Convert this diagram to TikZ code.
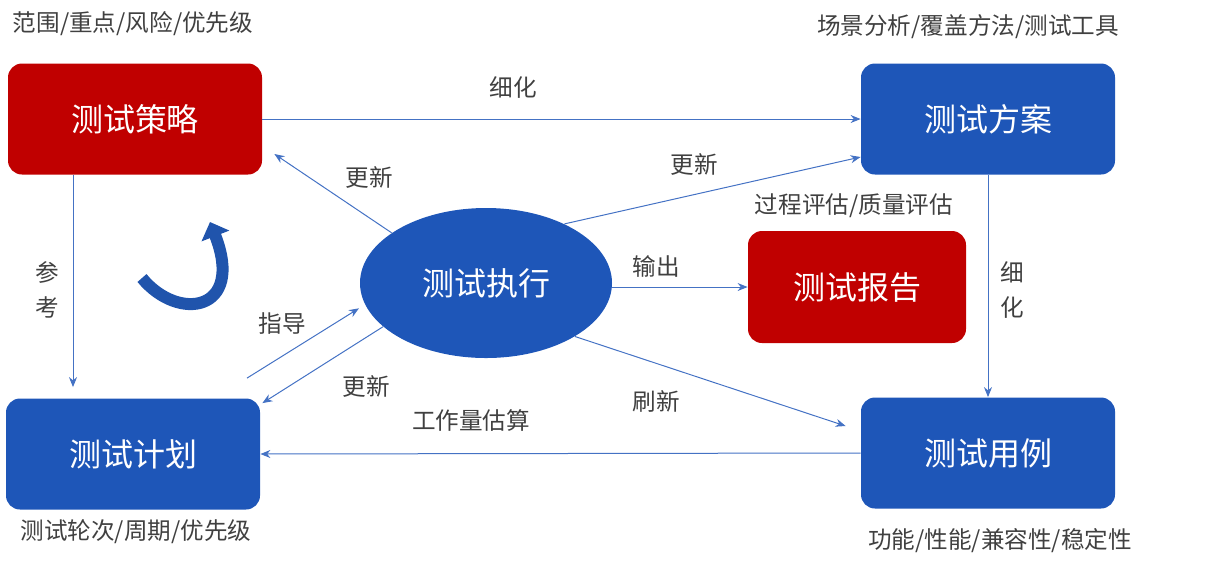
\documentclass[tikz,border=0pt]{standalone}
\usepackage{fontspec}
\setmainfont{Noto Sans CJK SC}
\usetikzlibrary{arrows.meta,positioning,shapes.geometric}
\definecolor{boxred}{RGB}{192,0,0}
\definecolor{boxblue}{RGB}{30,86,184}
\definecolor{linkblue}{RGB}{68,114,196}
\definecolor{textgray}{RGB}{64,64,64}
\definecolor{curveblue}{RGB}{32,84,172}

\begin{document}
\begin{tikzpicture}[x=0.5pt, y=-0.5pt,
  box/.style={rounded corners=7pt, minimum width=127pt, minimum height=55.5pt,
    align=center, text=white, inner sep=0pt, font=\fontsize{16}{19}\selectfont},
  arr/.style={-{Stealth[length=5pt,width=4pt]}, draw=linkblue, line width=0.5pt},
  lbl/.style={text=textgray, inner sep=0pt, font=\fontsize{11.8}{14}\selectfont}
]
\useasboundingbox (0,0) rectangle (1207,570);
\node[box, fill=boxred] (strategy) at (135,119) {测试策略};
\node[box, fill=boxblue] (scheme) at (988,119) {测试方案};
\node[box, fill=boxblue] (plan) at (133,454) {测试计划};
\node[box, fill=boxblue] (cases) at (988,453) {测试用例};
\node[box, fill=boxred, minimum width=109pt, minimum height=56pt] (report) at (857,287) {测试报告};
\node[ellipse, fill=boxblue, minimum width=126pt, minimum height=75pt, inner sep=0pt,
  text=white, font=\fontsize{16}{19}\selectfont] (exec) at (486,283) {测试执行};

\node[lbl] (strategynote) at (133,24) {范围/重点/风险/优先级};
\node[lbl] (schemenote) at (968,27) {场景分析/覆盖方法/测试工具};
\node[lbl] (plannote) at (136,532) {测试轮次/周期/优先级};
\node[lbl] (casesnote) at (1000,541) {功能/性能/兼容性/稳定性};
\node[lbl] (reportnote) at (854,206) {过程评估/质量评估};

\draw[arr] (strategy.east) -- (scheme.west);
\draw[arr, shorten >=5.5pt] ([xshift=-31pt]strategy.south) -- ([xshift=-31pt]strategy.south |- plan.north);
\draw[arr] (scheme.south) -- (cases.north);
\draw[arr] (cases.west) -- (plan.east);
\draw[arr] (exec.152) -- ([xshift=6pt,yshift=-17.5pt]strategy.east);
\draw[arr] (exec.37) -- ([yshift=-19pt]scheme.west);
\draw[arr] (exec.east |- report.west) -- (report.west);
\draw[arr] (exec.-31) -- ([xshift=-7.5pt,yshift=13.5pt]cases.west);
\draw[arr] ([xshift=57pt,yshift=10pt]plan.north) -- ([xshift=-4pt]exec.192);
\draw[arr] (exec.203) -- ([xshift=1pt,yshift=-2.5pt]plan.north east);

\node[lbl] (refine1) at (513,87) {细化};
\node[lbl, align=center, font=\fontsize{11.8}{17.5}\selectfont] (refer) at (47,290) {参\\考};
\node[lbl, align=center, font=\fontsize{11.8}{17.5}\selectfont] (refine2) at (1012,290) {细\\化};
\node[lbl] (update1) at (369,177) {更新};
\node[lbl] (update2) at (694,164) {更新};
\node[lbl] (output) at (656,266) {输出};
\node[lbl] (refresh) at (656,401) {刷新};
\node[lbl] (guide) at (282,324) {指导};
\node[lbl] (update3) at (366,386) {更新};
\node[lbl] (estimate) at (471,420) {工作量估算};

\draw[line width=6pt, draw=curveblue, -{Triangle[length=7.5pt,width=14.5pt]}]
  (142,278) .. controls (178,322) and (245,312) .. (210,222);
\end{tikzpicture}
\end{document}
